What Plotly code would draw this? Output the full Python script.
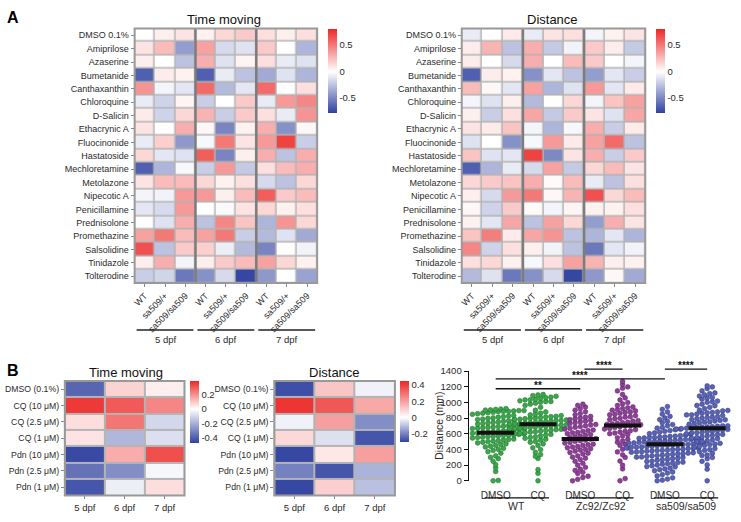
import plotly.graph_objects as go
import numpy as np

W, H = 741, 522
def px(x): return x / W
def py(y): return 1 - y / H

FONT = "Liberation Sans, Arial, sans-serif"
TXT = "#2b2b2b"

# ---------------- Panel A data ----------------
compounds = ["DMSO 0.1%", "Amiprilose", "Azaserine", "Bumetanide", "Canthaxanthin",
             "Chloroquine", "D-Salicin", "Ethacrynic A", "Fluocinonide", "Hastatoside",
             "Mechloretamine", "Metolazone", "Nipecotic A", "Penicillamine", "Prednisolone",
             "Promethazine", "Salsolidine", "Tinidazole", "Tolterodine"]
genotypes = ["WT", "sa509/+", "sa509/sa509"] * 3
days = ["5 dpf", "6 dpf", "7 dpf"]

time_moving_A = [
    [0.00, 0.06, 0.10, 0.05, 0.15, 0.20, 0.12, 0.06, 0.12],
    [0.10, 0.25, -0.40, 0.35, -0.15, -0.12, 0.20, 0.00, -0.30],
    [0.06, 0.00, -0.25, 0.30, -0.12, 0.04, 0.12, -0.08, -0.12],
    [-0.65, 0.07, 0.05, -0.65, -0.08, -0.25, -0.35, -0.12, -0.30],
    [0.40, -0.04, -0.10, 0.55, -0.28, -0.10, 0.55, 0.00, 0.12],
    [-0.08, -0.18, 0.04, -0.20, 0.00, 0.20, -0.08, 0.38, 0.45],
    [0.08, -0.18, 0.15, 0.28, -0.20, 0.20, 0.12, -0.08, 0.40],
    [0.10, 0.00, 0.30, 0.03, -0.50, 0.05, 0.30, -0.45, 0.03],
    [-0.08, 0.18, -0.42, -0.03, 0.50, 0.10, 0.38, 0.70, -0.20],
    [0.15, -0.10, -0.12, 0.60, -0.50, 0.06, 0.30, -0.25, 0.30],
    [-0.65, -0.30, -0.03, -0.20, 0.38, -0.22, 0.12, 0.25, 0.30],
    [0.10, 0.25, 0.25, 0.15, 0.05, 0.12, -0.15, -0.25, 0.15],
    [-0.04, -0.05, 0.38, 0.38, 0.06, 0.25, 0.60, 0.20, 0.25],
    [-0.10, -0.15, 0.38, 0.00, -0.02, 0.10, 0.15, 0.05, 0.12],
    [0.01, -0.12, 0.30, -0.25, 0.45, 0.22, -0.30, 0.40, 0.15],
    [0.35, 0.50, 0.25, 0.35, 0.50, -0.20, -0.28, -0.12, -0.35],
    [0.65, -0.25, 0.20, 0.18, -0.07, -0.28, -0.50, 0.01, -0.05],
    [0.06, 0.30, -0.04, 0.06, 0.20, 0.25, 0.35, 0.15, 0.05],
    [-0.20, -0.17, -0.55, -0.45, -0.15, -0.75, -0.42, 0.00, -0.38],
]

distance_A = [
    [-0.08, 0.00, 0.08, -0.08, 0.10, 0.12, -0.04, 0.05, 0.10],
    [0.07, 0.28, -0.25, 0.30, -0.22, -0.05, 0.20, 0.07, -0.22],
    [0.07, 0.00, -0.15, 0.30, 0.00, 0.25, 0.20, 0.00, -0.04],
    [-0.65, 0.07, 0.05, -0.45, -0.10, -0.25, -0.40, -0.10, -0.20],
    [0.25, 0.03, -0.10, 0.35, -0.30, -0.12, 0.38, -0.10, 0.08],
    [-0.04, -0.12, 0.06, -0.28, 0.00, 0.15, -0.04, 0.22, 0.35],
    [0.06, -0.20, 0.12, 0.33, -0.22, 0.20, 0.10, -0.12, 0.33],
    [0.10, 0.08, 0.22, -0.04, -0.30, -0.03, 0.30, -0.20, 0.08],
    [-0.12, 0.00, -0.45, -0.03, 0.38, 0.08, 0.35, 0.55, -0.25],
    [0.22, -0.12, -0.10, 0.70, -0.48, 0.10, 0.30, -0.20, 0.20],
    [-0.65, -0.30, -0.08, -0.15, 0.35, -0.22, 0.15, 0.25, 0.10],
    [0.15, 0.20, 0.22, 0.30, 0.02, 0.25, -0.08, -0.25, 0.12],
    [0.06, -0.15, 0.38, 0.50, 0.03, 0.28, 0.65, 0.15, 0.25],
    [0.03, -0.18, 0.20, 0.02, -0.04, 0.04, 0.05, 0.05, 0.12],
    [0.05, -0.10, 0.33, -0.25, 0.35, 0.15, -0.40, 0.30, 0.10],
    [0.22, 0.48, 0.08, 0.33, 0.40, -0.25, -0.30, -0.10, -0.30],
    [0.45, -0.18, 0.12, 0.06, -0.05, -0.25, -0.55, -0.10, -0.05],
    [0.12, 0.15, 0.05, -0.03, 0.12, 0.35, 0.28, 0.06, 0.05],
    [-0.28, -0.12, -0.55, -0.45, -0.15, -0.75, -0.42, 0.03, -0.35],
]

# ---------------- Panel B heatmap data ----------------
treatments = ["DMSO (0.1%)", "CQ (10 \u03bcM)", "CQ (2.5 \u03bcM)", "CQ (1 \u03bcM)",
              "Pdn (10 \u03bcM)", "Pdn (2.5 \u03bcM)", "Pdn (1 \u03bcM)"]
time_moving_B = [
    [-0.38, 0.08, 0.03],
    [0.36, 0.30, 0.22],
    [0.06, 0.25, -0.10],
    [0.05, -0.18, -0.08],
    [-0.45, 0.15, 0.32],
    [-0.35, -0.28, -0.02],
    [-0.42, -0.04, 0.06],
]
distance_B = [
    [-0.28, 0.12, -0.02],
    [0.42, 0.35, 0.18],
    [-0.02, 0.20, -0.18],
    [0.08, -0.05, -0.27],
    [-0.29, 0.05, 0.20],
    [-0.20, -0.27, -0.12],
    [-0.29, 0.10, -0.10],
]

# ---------------- Panel B scatter data ----------------
scatter_cats = ["DMSO", "CQ", "DMSO", "CQ", "DMSO", "CQ"]
scatter_groups = ["WT", "Zc92/Zc92", "sa509/sa509"]
wt_dmso = [0, 4, 118, 165, 205, 248, 282, 300, 318, 352, 372, 388, 402, 415, 432, 441, 452, 463,
           472, 483, 492, 500, 506, 512, 521, 527, 533, 541, 546, 552, 557, 563, 566, 572, 577,
           582, 586, 592, 597, 601, 606, 611, 617, 622, 626, 631, 637, 642, 646, 651, 657, 662,
           666, 671, 676, 681, 686, 692, 697, 702, 706, 712, 718, 724, 731, 738, 744, 752, 758,
           766, 772, 781, 788, 796, 803, 811, 818, 826, 833, 842, 848, 856, 862, 869, 874, 882,
           886, 891, 897, 902, 906, 911, 916, 921, 884, 896]
wt_cq = [0, 95, 142, 285, 312, 334, 362, 398, 421, 452, 471, 492, 503, 518, 531, 542, 553, 561,
         572, 583, 592, 601, 606, 613, 621, 626, 633, 641, 646, 652, 657, 662, 667, 672, 676,
         681, 687, 692, 696, 702, 707, 711, 716, 722, 726, 731, 736, 741, 747, 752, 756, 762,
         767, 771, 776, 782, 786, 792, 797, 802, 807, 813, 818, 823, 832, 841, 852, 863, 878,
         901, 938, 962, 978, 991, 1002, 1012, 1021, 1033, 1041, 1052, 1061, 1068, 1079, 1088,
         1096, 1102, 1012, 1034]
zc_dmso = [0, 18, 42, 58, 93, 108, 132, 148, 172, 198, 223, 248, 271, 288, 302, 318, 341, 352,
           361, 378, 392, 401, 409, 422, 431, 438, 452, 461, 468, 482, 489, 502, 511, 518, 531,
           538, 552, 561, 569, 582, 588, 601, 612, 618, 632, 641, 648, 661, 668, 682, 692, 701,
           712, 719, 732, 741, 752, 761, 772, 781, 792, 802, 811, 822, 842, 858, 881, 902, 921,
           941, 962, 978]
zc_cq = [0, 28, 152, 198, 252, 298, 331, 368, 402, 418, 452, 468, 492, 508, 531, 548, 572, 588,
         601, 609, 622, 631, 638, 652, 661, 668, 681, 689, 698, 704, 711, 716, 721, 726, 732,
         741, 748, 761, 768, 782, 791, 798, 812, 818, 831, 842, 848, 861, 872, 879, 892, 901,
         908, 922, 931, 942, 961, 982, 998, 1032, 1058, 1102, 1148, 1182, 1198, 1232, 1268]
sa_dmso = [0, 8, 22, 38, 62, 78, 98, 112, 128, 151, 162, 178, 192, 201, 212, 219, 232, 238, 251,
           262, 268, 281, 288, 298, 304, 311, 318, 326, 331, 338, 346, 352, 358, 364, 371, 376,
           381, 386, 392, 396, 401, 404, 411, 416, 421, 426, 429, 436, 441, 446, 451, 456, 459,
           466, 471, 476, 481, 484, 491, 496, 501, 506, 509, 516, 521, 526, 531, 534, 541, 546,
           551, 556, 561, 566, 571, 576, 582, 591, 601, 611, 619, 632, 641, 652, 659, 672, 681,
           702, 718, 742, 758, 781, 802, 822, 851, 878, 912, 948, 342, 368, 388, 412, 432, 452,
           462, 478, 498, 512, 528, 552, 302, 322, 276, 246, 224, 182, 142]
sa_cq = [0, 148, 202, 248, 282, 298, 328, 352, 371, 388, 412, 428, 451, 462, 478, 502, 511, 522,
         538, 552, 561, 572, 578, 592, 601, 611, 618, 632, 641, 648, 656, 661, 666, 671, 676,
         682, 686, 691, 696, 702, 712, 718, 732, 741, 748, 762, 771, 778, 792, 801, 812, 818,
         832, 841, 852, 861, 872, 878, 892, 902, 921, 938, 961, 978, 1002, 1018, 1042, 1058,
         1082, 1098, 1122, 1148, 1178, 1198, 1212, 688, 702, 722, 752, 782, 808, 842, 868, 898,
         612, 628, 588, 542, 498, 468, 438, 398, 322, 958, 1008, 1062, 1112]
scatter_values = [wt_dmso, wt_cq, zc_dmso, zc_cq, sa_dmso, sa_cq]
scatter_means = [612, 722, 532, 707, 468, 672]
scatter_colors = ["#3aa84a", "#3aa84a", "#8e3f98", "#8e3f98", "#5a62b4", "#5a62b4"]
scatter_edges = ["#1f6b2a", "#1f6b2a", "#5a2063", "#5a2063", "#2f3680", "#2f3680"]

# significance: (x_start, x_end, height, label)
sig_bars = [(0, 2, 1175, "**"), (0, 4, 1300, "****"), (2.1, 3.0, 1425, "****"), (4.0, 5.0, 1425, "****")]

# ---------------- helpers ----------------
BLUE = (48, 66, 160)
RED = (236, 40, 38)

def cscale(zmin, zmax):
    w = (0 - zmin) / (zmax - zmin)
    return [[0, "rgb(%d,%d,%d)" % BLUE], [w, "rgb(255,255,255)"], [1, "rgb(%d,%d,%d)" % RED]]

fig = go.Figure()
shapes = []
annotations = []

def ann(text, x, y, size, color=TXT, **kw):
    d = dict(text=text, x=px(x), y=py(y), xref="paper", yref="paper", showarrow=False,
             xanchor="center", yanchor="middle", font=dict(size=size, color=color, family=FONT))
    d.update(kw)
    annotations.append(d)

def add_heat(z, xname, yname, x0, x1, y0, y1, ylabels, xlabels, zmin, zmax, cb, cbticks,
             xgap=1.5, ygap=1.5, seps=(), xangle=-45, xfont=9, yfont=9.0, xticklen=3):
    nrow, ncol = len(z), len(z[0])
    fig.add_trace(go.Heatmap(
        z=z, x=list(range(ncol)), y=list(range(nrow)), xaxis=xname, yaxis=yname,
        zmin=zmin, zmax=zmax, colorscale=cscale(zmin, zmax), xgap=xgap, ygap=ygap,
        hoverinfo="skip",
        colorbar=dict(x=px(cb[0]), xanchor="left", y=py(cb[1]), yanchor="top",
                      len=cb[2], lenmode="pixels", thickness=9, thicknessmode="pixels",
                      outlinewidth=0, xpad=0, ypad=0, ticks="",
                      tickvals=cbticks, ticktext=[("%g" % t) for t in cbticks],
                      tickfont=dict(size=9.5, color=TXT, family=FONT))))
    suffix = xname[1:]
    fig.layout["xaxis" + suffix] = dict(
        domain=[px(x0), px(x1)], range=[-0.5, ncol - 0.5], anchor=yname,
        tickvals=list(range(ncol)), ticktext=xlabels, tickangle=xangle,
        tickfont=dict(size=xfont, color=TXT, family=FONT), ticks="outside", ticklen=xticklen,
        tickcolor="#888", showgrid=False, zeroline=False, showline=False, fixedrange=True)
    fig.layout["yaxis" + suffix] = dict(
        domain=[py(y1), py(y0)], range=[nrow - 0.5, -0.5], anchor=xname,
        tickvals=list(range(nrow)), ticktext=ylabels,
        tickfont=dict(size=yfont, color=TXT, family=FONT), ticks="outside", ticklen=3,
        tickcolor="#888", showgrid=False, zeroline=False, showline=False, fixedrange=True)
    shapes.append(dict(type="rect", xref="paper", yref="paper", x0=px(x0), x1=px(x1),
                       y0=py(y1), y1=py(y0), fillcolor="#b4b4b4", line=dict(width=0), layer="below"))
    for s in seps:
        shapes.append(dict(type="line", xref=xname, yref="paper", x0=s, x1=s, y0=py(y1), y1=py(y0),
                           line=dict(color="#7c7c7c", width=2.5)))
    shapes.append(dict(type="rect", xref="paper", yref="paper", x0=px(x0), x1=px(x1),
                       y0=py(y1), y1=py(y0), line=dict(color="#999999", width=2)))

# Panel A heatmaps
add_heat(time_moving_A, "x", "y", 133, 316, 23, 283, compounds, genotypes, -0.77, 0.80,
         (327, 23, 84), [0.5, 0, -0.5], seps=(2.5, 5.5))
add_heat(distance_A, "x2", "y2", 461, 645, 23, 283, compounds, genotypes, -0.77, 0.80,
         (656, 23, 84), [0.5, 0, -0.5], seps=(2.5, 5.5))

# Panel B heatmaps
add_heat(time_moving_B, "x3", "y3", 63, 183, 383, 500, treatments, days, -0.47, 0.39,
         (189, 383, 62), [0.2, 0, -0.2, -0.4], xgap=2, ygap=2, xangle=0, xfont=9.5, yfont=8.7)
add_heat(distance_B, "x4", "y4", 273, 394, 383, 500, treatments, days, -0.30, 0.45,
         (399, 383, 61), [0.4, 0.2, 0, -0.2], xgap=2, ygap=2, xangle=0, xfont=9.5, yfont=8.7)

# day group underlines for panel A
for (x0, x1) in [(133, 316), (461, 645)]:
    cw = (x1 - x0) / 9
    for g, d in enumerate(days):
        a = x0 + g * 3 * cw + 2
        b = x0 + (g + 1) * 3 * cw - 2
        shapes.append(dict(type="line", xref="paper", yref="paper", x0=px(a), x1=px(b),
                           y0=py(331), y1=py(331), line=dict(color="#222", width=1.3)))
        ann(d, (a + b) / 2, 341, 9.5)

# ---------------- Scatter (beeswarm) ----------------
def swarm_offsets(vals, bin_h=60, dx=0.122):
    v = np.asarray(vals, float)
    order = np.argsort(v)
    xs = np.zeros(len(v))
    bins = np.floor(v[order] / bin_h)
    for b in np.unique(bins):
        idx = order[np.where(bins == b)[0]]
        n = len(idx)
        xs[idx] = (np.arange(n) - (n - 1) / 2) * dx
    return xs

for i, vals in enumerate(scatter_values):
    off = swarm_offsets(vals)
    fig.add_trace(go.Scatter(
        x=i + off, y=vals, mode="markers", xaxis="x5", yaxis="y5", cliponaxis=False,
        marker=dict(size=4.8, color=scatter_colors[i], line=dict(color=scatter_edges[i], width=0.5)),
        hoverinfo="skip", showlegend=False))
for i, m in enumerate(scatter_means):
    fig.add_trace(go.Scatter(x=[i - 0.44, i + 0.44], y=[m, m], mode="lines", xaxis="x5", yaxis="y5",
                             line=dict(color="#111", width=4), hoverinfo="skip", showlegend=False,
                             cliponaxis=False))

Y0PIX, YPX = 485, 0.08  # pixel of value 0, px per unit
def vy(v): return py(Y0PIX - v * YPX)

fig.layout["xaxis5"] = dict(domain=[px(468), px(730)], range=[-0.637, 5.54], anchor="y5",
                            tickvals=list(range(6)), ticktext=scatter_cats, ticks="outside",
                            ticklen=5, tickcolor="rgba(0,0,0,0)",
                            tickfont=dict(size=10, color=TXT, family=FONT), showgrid=False,
                            zeroline=False, showline=False, fixedrange=True)
fig.layout["yaxis5"] = dict(domain=[py(485), py(373)], range=[0, 1400], anchor="x5", dtick=200,
                            ticks="outside", ticklen=4, tickwidth=1.3, tickcolor="#111",
                            showline=True, linecolor="#111", linewidth=1.3,
                            tickfont=dict(size=9.5, color=TXT, family=FONT), showgrid=False,
                            zeroline=False, fixedrange=True)
ann("Distance (mm)", 438, 429, 10.5, textangle=-90)

for (a, b, h, lab) in sig_bars:
    shapes.append(dict(type="line", xref="x5", yref="paper", x0=a, x1=b, y0=vy(h), y1=vy(h),
                       line=dict(color="#111", width=1.3)))
    annotations.append(dict(text="<b>%s</b>" % lab, x=(a + b) / 2, y=vy(h), xref="x5", yref="paper",
                            xanchor="center", yanchor="bottom", showarrow=False, yshift=-4,
                            font=dict(size=10, color="#111", family=FONT)))

for g, name in enumerate(scatter_groups):
    c = 2 * g + 0.5
    shapes.append(dict(type="line", xref="x5", yref="paper", x0=c - 0.76, x1=c + 0.76,
                       y0=py(502.5), y1=py(502.5), line=dict(color="#111", width=1.3)))
    annotations.append(dict(text=name, x=c, y=py(511), xref="x5", yref="paper", showarrow=False,
                            xanchor="center", yanchor="middle",
                            font=dict(size=10.5, color=TXT, family=FONT)))

# titles and panel letters
ann("Time moving", 223, 14, 13, "#111")
ann("Distance", 552, 14, 13, "#111")
ann("Time moving", 124, 374, 13, "#111")
ann("Distance", 333, 374, 13, "#111")
ann("<b>A</b>", 11, 12, 16, "#000")
ann("<b>B</b>", 11, 372, 16, "#000")

fig.update_layout(width=W, height=H, margin=dict(l=0, r=0, t=0, b=0, pad=0),
                  paper_bgcolor="white", plot_bgcolor="white", showlegend=False,
                  shapes=shapes, annotations=annotations,
                  font=dict(family=FONT, color=TXT))

fig.write_html("out.html", config={"displayModeBar": False},
               post_script="document.body.style.margin='0';document.body.style.overflow='hidden';")
